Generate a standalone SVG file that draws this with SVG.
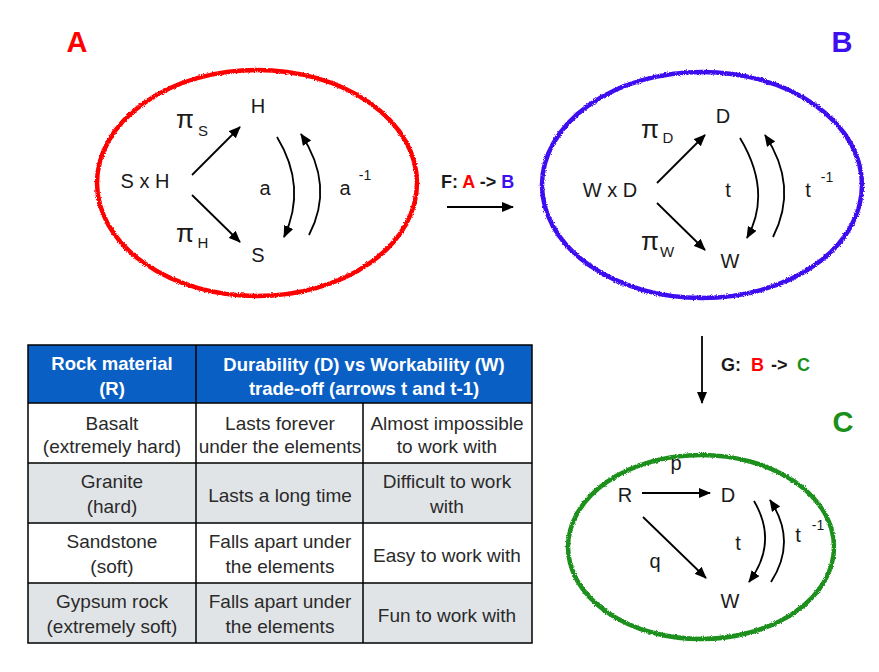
<svg xmlns="http://www.w3.org/2000/svg" width="879" height="672" viewBox="0 0 879 672">
<style>
text{font-family:"Liberation Sans",Arial,sans-serif;fill:#1a1a1a}
.n{font-size:20px;text-anchor:middle}
.pi{font-size:26px;text-anchor:middle}
.sub{font-size:15px;text-anchor:middle}
.sup{font-size:14px;text-anchor:middle}
.big{font-size:29px;font-weight:bold;text-anchor:middle}
.fn{font-size:18px;font-weight:bold}
.edge{fill:none;stroke:#000;stroke-width:1.8;marker-end:url(#ah)}
.ring{fill:none;stroke-width:4.5;filter:url(#rough)}
.hd{font-size:18.5px;font-weight:bold;fill:#fff;text-anchor:middle}
.td{font-size:19px;fill:#2a2a2a;text-anchor:middle}
.grid{stroke:#000;stroke-width:1.5;fill:none}
</style>
<defs>
<marker id="ah" markerUnits="userSpaceOnUse" markerWidth="12" markerHeight="10" refX="11" refY="5" orient="auto">
<path d="M0,0 L12,5 L0,10 Z" fill="#000"/>
</marker>
<filter id="rough" x="-5%" y="-5%" width="110%" height="110%">
<feTurbulence type="fractalNoise" baseFrequency="0.9" numOctaves="2" seed="3"/>
<feDisplacementMap in="SourceGraphic" scale="3" xChannelSelector="R" yChannelSelector="G"/>
</filter>
</defs>
<rect width="879" height="672" fill="#fff"/>

<g id="panel-A">
<ellipse class="ring" cx="257" cy="183" rx="160" ry="113" stroke="#f00"/>
<text class="big" x="77" y="52" style="fill:#f00">A</text>
</g>
<g id="node-SxH"><text class="n" x="145" y="188">S x H</text></g>
<g id="node-H"><text class="n" x="258" y="113">H</text></g>
<g id="node-S"><text class="n" x="258" y="262">S</text></g>

<g id="panel-B">
<ellipse class="ring" cx="702" cy="185" rx="160" ry="113" stroke="#3d0ff0"/>
<text class="big" x="842" y="52" style="fill:#3d0ff0">B</text>
</g>
<g id="node-WxD"><text class="n" x="610" y="197">W x D</text></g>
<g id="node-D"><text class="n" x="723" y="123">D</text></g>
<g id="node-W"><text class="n" x="730" y="268">W</text></g>

<g id="panel-C">
<ellipse class="ring" cx="701" cy="547" rx="133" ry="92" stroke="#1a8f1a"/>
<text class="big" x="843" y="432" style="fill:#1a8f1a">C</text>
</g>
<g id="node-R"><text class="n" x="625" y="502">R</text></g>
<g id="node-D2"><text class="n" x="728" y="502">D</text></g>
<g id="node-W2"><text class="n" x="730" y="608">W</text></g>

<g id="connectors">
<path class="edge" d="M192,175 L240,127"/>
<path class="edge" d="M192,195 L240,242"/>
<path class="edge" d="M277,137 Q307.5,187 284,237"/>
<path class="edge" d="M309,235 Q335,185.5 301,134"/>
<path class="edge" d="M657,183 L705,135"/>
<path class="edge" d="M657,203 L705,250"/>
<path class="edge" d="M740,138 Q772.5,192 747,238"/>
<path class="edge" d="M773,237 Q799,186 765,135"/>
<path class="edge" d="M642,493 L710,493"/>
<path class="edge" d="M643,517 L706,578"/>
<path class="edge" d="M754,501 Q778.5,542.5 749,582"/>
<path class="edge" d="M771,582 Q797.5,541 770,500"/>
<path class="edge" d="M447,207 L513,207"/>
<path class="edge" d="M702,336 L702,403"/>
</g>

<g id="edge-labels">
<text class="pi" x="185" y="128">π</text><text class="sub" x="203" y="136">S</text>
<text class="pi" x="185" y="242">π</text><text class="sub" x="203" y="248">H</text>
<text class="n" x="265" y="195">a</text>
<text class="n" x="345" y="195">a</text><text class="sup" x="365" y="180">-1</text>
<text class="pi" x="650" y="138">π</text><text class="sub" x="668" y="143">D</text>
<text class="pi" x="650" y="250">π</text><text class="sub" x="667" y="257">W</text>
<text class="n" x="728" y="197">t</text>
<text class="n" x="808" y="197">t</text><text class="sup" x="827" y="182">-1</text>
<text class="n" x="676" y="470">p</text>
<text class="n" x="655" y="568">q</text>
<text class="n" x="738" y="550">t</text>
<text class="n" x="798" y="542">t</text><text class="sup" x="818" y="530">-1</text>
<text class="fn" x="441" y="188">F: <tspan style="fill:#f00">A</tspan> -&gt; <tspan style="fill:#3d0ff0">B</tspan></text>
<text class="fn" x="721" y="371">G:<tspan x="751" style="fill:#f00">B</tspan><tspan x="771">-&gt;</tspan><tspan x="797" style="fill:#1a8f1a">C</tspan></text>
</g>

<g id="table">
<rect x="28" y="345" width="504" height="58" fill="#0a5fc4"/>
<rect x="28" y="463" width="504" height="60" fill="#e1e4e7"/>
<rect x="28" y="583" width="504" height="60" fill="#e1e4e7"/>
<rect class="grid" x="28" y="345" width="504" height="298"/>
<path class="grid" d="M28,403 H532 M28,463 H532 M28,523 H532 M28,583 H532 M196,345 V643 M363,403 V643"/>
<text class="hd" x="112" y="370">Rock material</text>
<text class="hd" x="112" y="395">(R)</text>
<text class="hd" x="364" y="371">Durability (D) vs Workability (W)</text>
<text class="hd" x="364" y="395">trade-off (arrows t and t-1)</text>
<text class="td" x="112" y="430">Basalt</text>
<text class="td" x="112" y="453">(extremely hard)</text>
<text class="td" x="280" y="430">Lasts forever</text>
<text class="td" x="280" y="453">under the elements</text>
<text class="td" x="447" y="430">Almost impossible</text>
<text class="td" x="447" y="453">to work with</text>
<text class="td" x="112" y="488">Granite</text>
<text class="td" x="112" y="513">(hard)</text>
<text class="td" x="280" y="502">Lasts a long time</text>
<text class="td" x="447" y="488">Difficult to work</text>
<text class="td" x="447" y="513">with</text>
<text class="td" x="112" y="548">Sandstone</text>
<text class="td" x="112" y="573">(soft)</text>
<text class="td" x="280" y="548">Falls apart under</text>
<text class="td" x="280" y="573">the elements</text>
<text class="td" x="447" y="562">Easy to work with</text>
<text class="td" x="112" y="608">Gypsum rock</text>
<text class="td" x="112" y="633">(extremely soft)</text>
<text class="td" x="280" y="608">Falls apart under</text>
<text class="td" x="280" y="633">the elements</text>
<text class="td" x="447" y="622">Fun to work with</text>
</g>
</svg>
